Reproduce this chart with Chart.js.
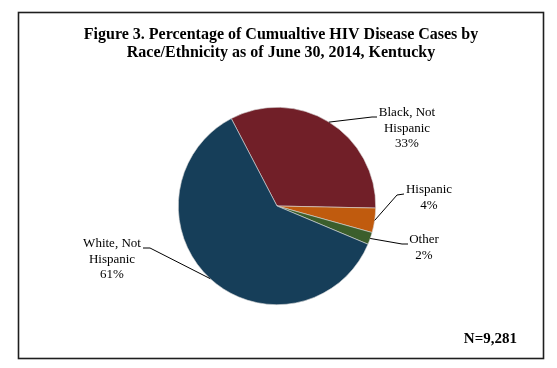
<!DOCTYPE html>
<html>
<head>
<meta charset="utf-8">
<title>Figure 3 - HIV Disease Cases by Race/Ethnicity</title>
<script src="https://cdn.jsdelivr.net/npm/chart.js@4.4.1/dist/chart.umd.min.js"></script>
<style>
  html, body { margin: 0; padding: 0; background: #ffffff; }
  #wrap { position: relative; width: 557px; height: 368px; }
</style>
</head>
<body>
<div id="wrap"><canvas id="raceChart" width="557" height="368"></canvas></div>
<script>
/* ==========================================
   DATA
   ========================================== */
const categories = [['Black, Not', 'Hispanic'], ['Hispanic'], ['Other'], ['White, Not', 'Hispanic']];
const percentages = [33, 4, 2, 61];
const sliceColors = ['#711f28', '#c05b0e', '#3b5e2c', '#163e59'];
const titleLines = ['Figure 3. Percentage of Cumualtive HIV Disease Cases by', 'Race/Ethnicity as of June 30, 2014, Kentucky'];
const totalLabel = 'N=9,281';

/* ==========================================
   LABEL LAYOUT (text centre, elbow of leader line)
   ========================================== */
const labelLayout = [
  { x: 407, y: 113, elbow: [372, 117], end: [377, 117] },
  { x: 429, y: 190, elbow: [397, 195], end: [404, 194] },
  { x: 424, y: 240, elbow: [402, 244], end: [408, 244] },
  { x: 112, y: 244, elbow: [150, 248], end: [143, 248] }
];

const serif = '"Liberation Serif", "Times New Roman", serif';

/**
 * Draws the frame, title, outside labels with leader lines and N count
 */
const decorPlugin = {
  id: 'decor',
  afterDraw(chart) {
    const ctx = chart.ctx;
    const arcs = chart.getDatasetMeta(0).data;
    ctx.save();

    // Frame
    ctx.strokeStyle = '#1e1e1e';
    ctx.lineWidth = 1.6;
    ctx.strokeRect(18.5, 12.5, 525, 346);

    // Title
    ctx.fillStyle = '#000000';
    ctx.font = 'bold 16px ' + serif;
    ctx.textAlign = 'center';
    ctx.textBaseline = 'middle';
    titleLines.forEach((line, i) => ctx.fillText(line, 281, 35 + i * 18));

    // Labels + leader lines
    ctx.font = '13px ' + serif;
    ctx.lineWidth = 1;
    ctx.strokeStyle = '#000000';
    arcs.forEach((arc, i) => {
      const p = arc.getProps(['x', 'y', 'startAngle', 'endAngle', 'outerRadius'], true);
      const mid = (p.startAngle + p.endAngle) / 2;
      const ex = p.x + Math.cos(mid) * p.outerRadius;
      const ey = p.y + Math.sin(mid) * p.outerRadius;
      const lay = labelLayout[i];

      ctx.beginPath();
      ctx.moveTo(ex, ey);
      ctx.lineTo(lay.elbow[0], lay.elbow[1]);
      ctx.lineTo(lay.end[0], lay.end[1]);
      ctx.stroke();

      const lines = categories[i].concat([percentages[i] + '%']);
      lines.forEach((txt, j) => ctx.fillText(txt, lay.x, lay.y + j * 15.5));
    });

    // N count
    ctx.font = 'bold 15px ' + serif;
    ctx.textAlign = 'right';
    ctx.fillText(totalLabel, 517, 339);

    ctx.restore();
  }
};

/* ==========================================
   CHART INITIALIZATION
   ========================================== */
function initChart() {
  const canvas = document.getElementById('raceChart');
  new Chart(canvas, {
    type: 'pie',
    data: {
      labels: categories,
      datasets: [{
        data: percentages,
        backgroundColor: sliceColors,
        borderColor: '#d9d9d9',
        borderWidth: 0.6
      }]
    },
    options: {
      responsive: false,
      animation: false,
      rotation: -27.6,
      layout: {
        padding: { left: 178, right: 181, top: 107, bottom: 63 }
      },
      plugins: {
        legend: { display: false },
        tooltip: { enabled: false }
      }
    },
    plugins: [decorPlugin]
  });
}

document.addEventListener('DOMContentLoaded', initChart);
</script>
</body>
</html>
